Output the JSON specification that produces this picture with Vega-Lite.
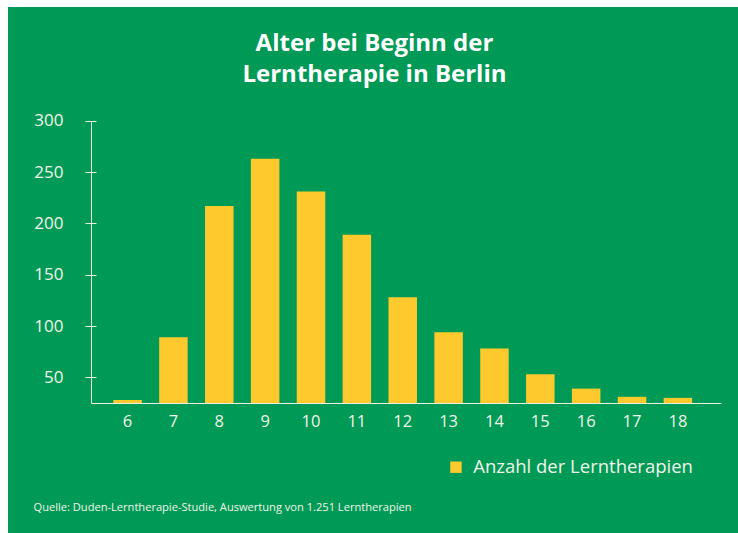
{
  "$schema": "https://vega.github.io/schema/vega-lite/v6.json",
  "width": 730,
  "height": 526,
  "autosize": {"type": "none"},
  "padding": {"left": 8, "top": 7, "right": 0, "bottom": 0},
  "background": "#ffffff",
  "config": {
    "view": {"fill": "#009a56", "stroke": null},
    "font": "Open Sans"
  },
  "data": {
    "values": [
      {"alter": 6, "anzahl": 28},
      {"alter": 7, "anzahl": 89},
      {"alter": 8, "anzahl": 217},
      {"alter": 9, "anzahl": 263},
      {"alter": 10, "anzahl": 231},
      {"alter": 11, "anzahl": 189},
      {"alter": 12, "anzahl": 128},
      {"alter": 13, "anzahl": 94},
      {"alter": 14, "anzahl": 78},
      {"alter": 15, "anzahl": 53},
      {"alter": 16, "anzahl": 39},
      {"alter": 17, "anzahl": 31},
      {"alter": 18, "anzahl": 30}
    ]
  },
  "resolve": {"axis": {"y": "independent"}},
  "layer": [
    {
      "mark": {"type": "bar", "color": "#fec92c"},
      "encoding": {
        "x": {
          "field": "alter",
          "type": "ordinal",
          "scale": {"range": [83, 713], "paddingInner": 0.379, "paddingOuter": 0.558, "align": 0.436},
          "axis": {
            "offset": -130,
            "domainColor": "#eef1e2",
            "domainWidth": 1,
            "ticks": false,
            "tickSize": 0,
            "labelAngle": 0,
            "labelColor": "#f3f4ea",
            "labelFontSize": 16.5,
            "labelPadding": 10,
            "title": "Quelle: Duden-Lerntherapie-Studie, Auswertung von 1.251 Lerntherapien",
            "titleX": 25,
            "titleY": 104,
            "titleAlign": "left",
            "titleAnchor": "start",
            "titleBaseline": "middle",
            "titleFontSize": 11.1,
            "titleFontWeight": "normal",
            "titleColor": "#f3f4ea"
          }
        },
        "y": {
          "field": "anzahl",
          "type": "quantitative",
          "scale": {"domain": [25, 300], "range": [396, 113.7], "nice": false, "zero": false},
          "axis": {
            "orient": "left",
            "offset": -88,
            "values": [50, 100, 150, 200, 250, 300],
            "domain": false,
            "grid": false,
            "tickSize": 11,
            "tickColor": "#eef1e2",
            "tickWidth": 1,
            "labelPadding": 22,
            "labelFontSize": 17,
            "labelColor": "#f3f4ea",
            "title": ["Alter bei Beginn der", "Lerntherapie in Berlin"],
            "titleAngle": 0,
            "titleX": 278,
            "titleY": 43,
            "titleAlign": "center",
            "titleBaseline": "alphabetic",
            "titleFontSize": 24,
            "titleFontWeight": "bold",
            "titleColor": "#ffffff",
            "titleLineHeight": 31
          }
        },
        "y2": {"datum": 25},
        "color": {
          "datum": "Anzahl der Lerntherapien",
          "type": "nominal",
          "scale": {"range": ["#fec92c"]},
          "legend": {
            "title": null,
            "orient": "none",
            "legendX": 438.7,
            "legendY": 451,
            "symbolType": "square",
            "symbolSize": 130,
            "symbolStrokeWidth": 0,
            "symbolOpacity": 1,
            "labelFontSize": 18.5,
            "labelLimit": 0,
            "labelColor": "#f3f4ea",
            "labelOffset": 8,
            "padding": 0
          }
        }
      }
    },
    {
      "mark": {"type": "point", "opacity": 0},
      "encoding": {
        "y": {
          "field": "anzahl",
          "type": "quantitative",
          "axis": {
            "orient": "left",
            "offset": -83,
            "domain": true,
            "domainColor": "#eef1e2",
            "domainWidth": 1,
            "ticks": false,
            "labels": false,
            "grid": false,
            "title": null
          }
        }
      }
    }
  ]
}
